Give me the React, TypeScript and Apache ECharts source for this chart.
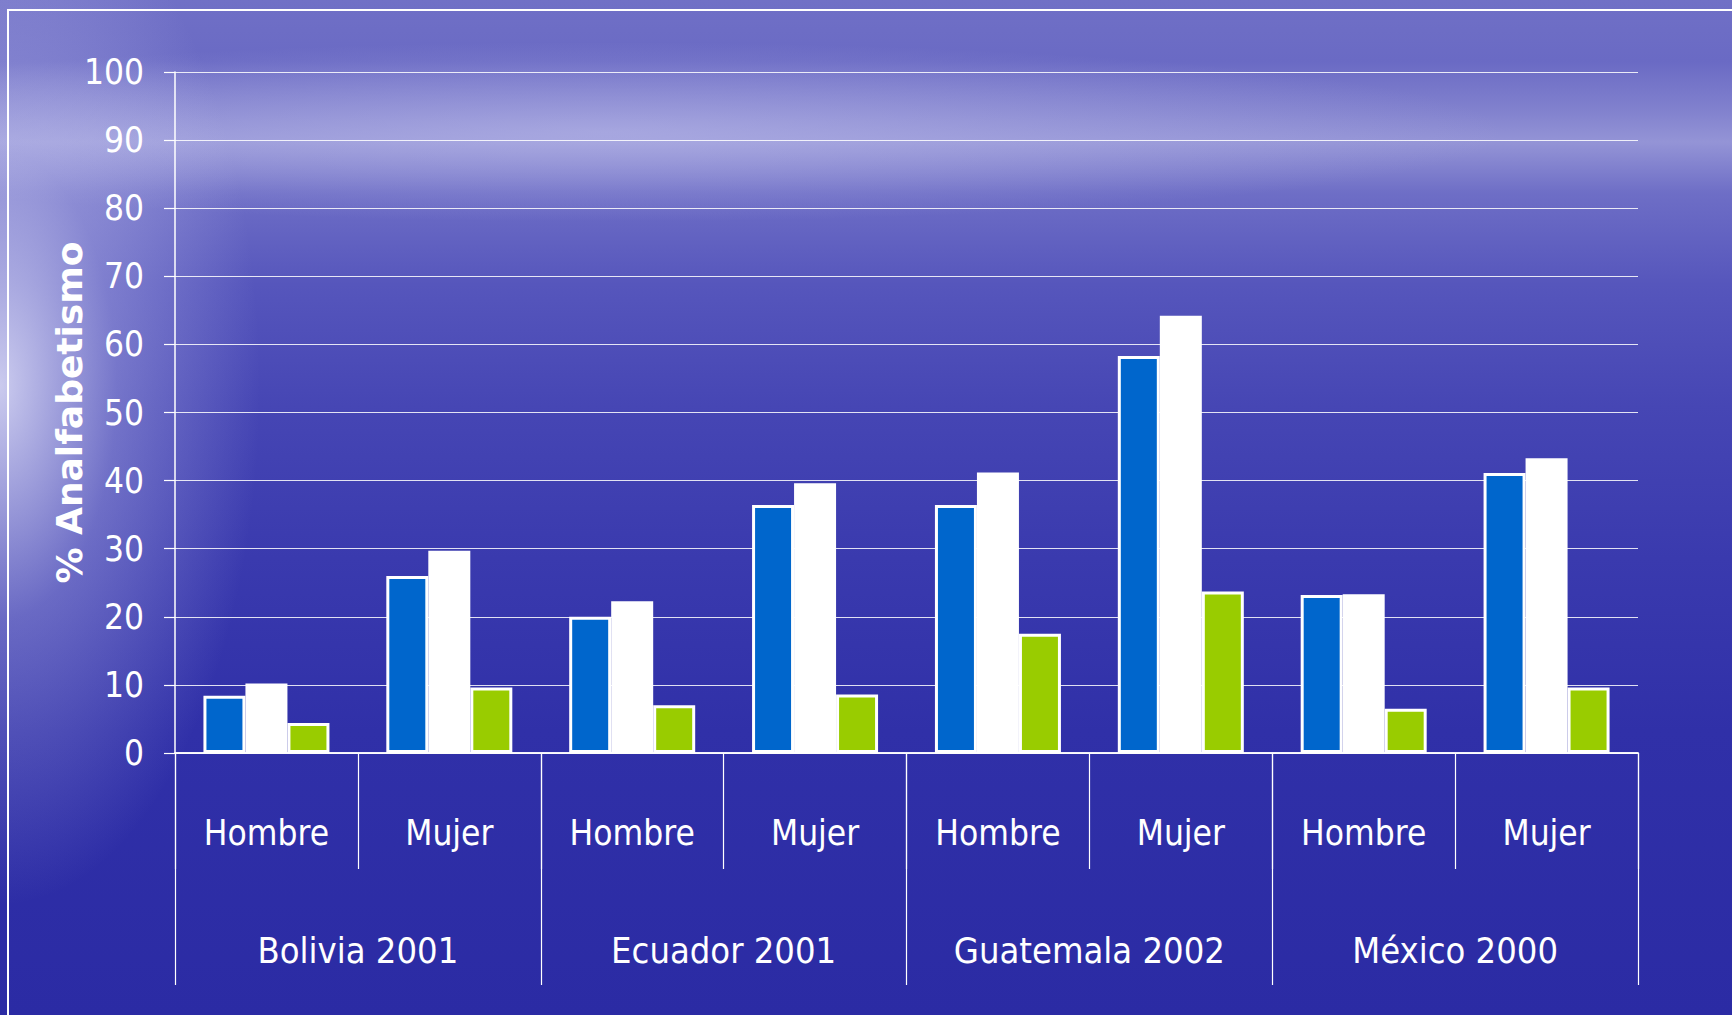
import React, { useEffect, useRef } from "react";
import * as echarts from "echarts";

const sexCategories = ["Hombre", "Mujer", "Hombre", "Mujer", "Hombre", "Mujer", "Hombre", "Mujer"];
const countryCategories = ["Bolivia 2001", "Ecuador 2001", "Guatemala 2002", "México 2000"];
const yTicks = [0, 10, 20, 30, 40, 50, 60, 70, 80, 90, 100];

const seriesBlue = [8.4, 26.0, 20.0, 36.4, 36.4, 58.3, 23.2, 41.1];
const seriesWhite = [10.2, 29.7, 22.3, 39.6, 41.2, 64.2, 23.3, 43.3];
const seriesGreen = [4.4, 9.6, 7.0, 8.6, 17.5, 23.7, 6.5, 9.6];

const FONT = "'DejaVu Sans Condensed', 'Noto Sans', sans-serif";

export default function App() {
  const ref = useRef<HTMLDivElement>(null);

  useEffect(() => {
    document.body.style.margin = "0";
    const chart = echarts.init(ref.current!, null, { renderer: "svg" });
    const barStyle = (color: string) => ({
      color,
      borderColor: "#ffffff",
      borderWidth: 3,
    });
    chart.setOption({
      animation: false,
      backgroundColor: "transparent",
      grid: { left: 175, right: 94, top: 72, bottom: 262, containLabel: false },
      graphic: [
        {
          type: "rect",
          shape: { x: 8, y: 10, width: 1800, height: 1100 },
          style: { fill: "none", stroke: "#ffffff", lineWidth: 2 },
          silent: true,
        },
      ],
      xAxis: [
        {
          type: "category",
          data: sexCategories,
          position: "bottom",
          axisLine: { show: true, lineStyle: { color: "#ffffff", width: 1.5 } },
          axisTick: { show: true, length: 116, lineStyle: { color: "#ffffff", width: 1.2 } },
          axisLabel: { interval: 0, margin: 62, color: "#ffffff", fontSize: 35, fontFamily: FONT },
          splitLine: { show: false },
        },
        {
          type: "category",
          data: countryCategories,
          position: "bottom",
          axisLine: { show: true, lineStyle: { color: "#ffffff", width: 1.5 } },
          axisTick: { show: true, length: 232, lineStyle: { color: "#ffffff", width: 1.2 } },
          axisLabel: { interval: 0, margin: 179, color: "#ffffff", fontSize: 36, fontFamily: FONT },
          splitLine: { show: false },
        },
      ],
      yAxis: {
        type: "value",
        min: yTicks[0],
        max: yTicks[yTicks.length - 1],
        interval: 10,
        name: "% Analfabetismo",
        nameLocation: "middle",
        nameGap: 88,
        nameMoveOverlap: false,
        nameRotate: 90,
        nameTextStyle: {
          color: "#ffffff",
          fontSize: 36,
          fontWeight: "bold",
          fontFamily: "'DejaVu Sans', sans-serif",
        },
        axisLine: { show: true, lineStyle: { color: "#ffffff", width: 1.5 } },
        axisTick: { show: true, length: 11, lineStyle: { color: "#ffffff", width: 1.2 } },
        axisLabel: { margin: 31, color: "#ffffff", fontSize: 35, fontFamily: FONT },
        splitLine: { show: true, lineStyle: { color: "rgba(255,255,255,0.85)", width: 1.2 } },
      },
      series: [
        { name: "Serie 1", type: "bar", xAxisIndex: 0, data: seriesBlue, barWidth: 42, barGap: "0%", itemStyle: barStyle("#0066cc") },
        { name: "Serie 2", type: "bar", xAxisIndex: 0, data: seriesWhite, barWidth: 42, barGap: "0%", itemStyle: barStyle("#ffffff") },
        { name: "Serie 3", type: "bar", xAxisIndex: 0, data: seriesGreen, barWidth: 42, barGap: "0%", itemStyle: barStyle("#99cc00") },
      ],
    });
    return () => chart.dispose();
  }, []);

  return (
    <div
      style={{
        position: "fixed",
        left: 0,
        top: 0,
        width: 1732,
        height: 1015,
        background:
          "radial-gradient(ellipse 260px 520px at 0% 38%, rgba(225,225,248,0.85) 0%, rgba(200,200,240,0.35) 45%, rgba(180,180,235,0) 100%)," +
          "radial-gradient(ellipse 900px 90px at 35% 13%, rgba(190,190,235,0.5) 0%, rgba(190,190,235,0) 100%)," +
          "linear-gradient(180deg, #7070c6 0%, #6a6ac4 6%, #8282ce 11%, #9494d6 14%, #6e6ec6 19%, #5656bc 28%, #4646b4 40%, #3a3aae 55%, #3030a8 72%, #2b2ba4 100%)",
      }}
    >
      <div ref={ref} style={{ width: 1732, height: 1015 }} />
    </div>
  );
}
